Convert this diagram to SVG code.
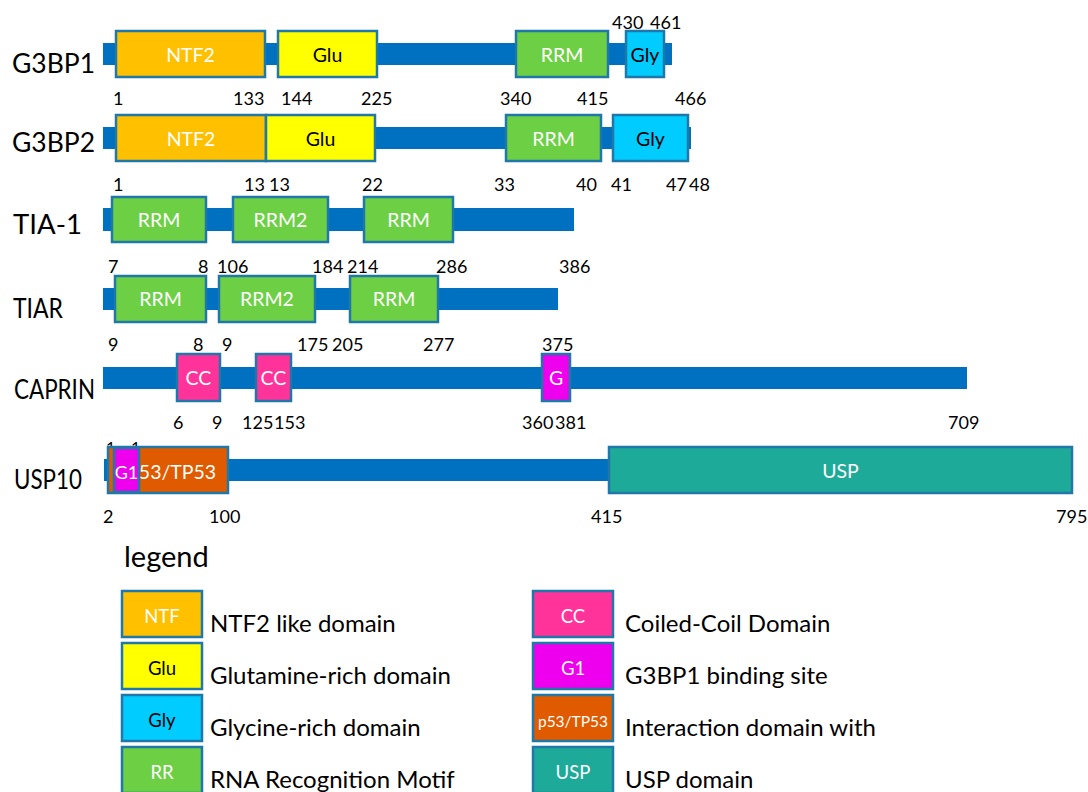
<svg xmlns="http://www.w3.org/2000/svg" width="1088" height="792" viewBox="0 0 1088 792">
<style>
text{font-family:Lato,"Open Sans","Liberation Sans",sans-serif;fill:#000}
.bar{fill:#0070C0}
.box{stroke:#1F78A8;stroke-width:2.5}
.ntf{fill:#FFC000}.glu{fill:#FFFF00}.rrm{fill:#6CCF44}.gly{fill:#00CCFF}
.cc{fill:#FF3399}.g{fill:#EE00EE}.p53{fill:#E05A00}.usp{fill:#1EAA98}
.lbl{font-size:26px}
.num{font-size:18px}
.bt{font-size:19.5px;text-anchor:middle}
.w{fill:#fff}
.leg{font-size:24px}
.lt{font-size:18.5px;text-anchor:middle}
</style>
<rect width="1088" height="792" fill="#fff"/>

<g id="G3BP1">
<text class="lbl" x="12" y="73" textLength="83" lengthAdjust="spacingAndGlyphs">G3BP1</text>
<rect class="bar" x="103" y="43" width="569" height="22"/>
<rect class="box ntf" x="116" y="31" width="149" height="46"/>
<text class="bt w" x="190.5" y="62">NTF2</text>
<rect class="box glu" x="278" y="31" width="99" height="46"/>
<text class="bt" x="327.5" y="62">Glu</text>
<rect class="box rrm" x="516" y="31" width="92" height="46"/>
<text class="bt w" x="562" y="62">RRM</text>
<rect class="box gly" x="626" y="31" width="38" height="46"/>
<text class="bt" x="645" y="62">Gly</text>
<text class="num" x="612" y="29">430</text>
<text class="num" x="650" y="29">461</text>
<text class="num" x="113" y="105">1</text>
<text class="num" x="233" y="105">133</text>
<text class="num" x="281" y="105">144</text>
<text class="num" x="361" y="105">225</text>
<text class="num" x="500" y="105">340</text>
<text class="num" x="577" y="105">415</text>
<text class="num" x="675" y="105">466</text>
</g>

<g id="G3BP2">
<text class="lbl" x="12" y="152" textLength="83" lengthAdjust="spacingAndGlyphs">G3BP2</text>
<rect class="bar" x="103" y="127" width="588" height="22"/>
<rect class="box ntf" x="116" y="115" width="150" height="46"/>
<text class="bt w" x="191" y="146">NTF2</text>
<rect class="box glu" x="266" y="115" width="109" height="46"/>
<text class="bt" x="320.5" y="146">Glu</text>
<rect class="box rrm" x="506" y="115" width="95" height="46"/>
<text class="bt w" x="553.5" y="146">RRM</text>
<rect class="box gly" x="613" y="115" width="75" height="46"/>
<text class="bt" x="650.5" y="146">Gly</text>
<text class="num" x="113" y="191">1</text>
<text class="num" x="244" y="191">13</text>
<text class="num" x="269" y="191">13</text>
<text class="num" x="362" y="191">22</text>
<text class="num" x="494" y="191">33</text>
<text class="num" x="576" y="191">40</text>
<text class="num" x="611" y="191">41</text>
<text class="num" x="666" y="191">47</text>
<text class="num" x="689" y="191">48</text>
</g>

<g id="TIA-1">
<text class="lbl" x="13" y="234" textLength="69" lengthAdjust="spacingAndGlyphs">TIA-1</text>
<rect class="bar" x="103" y="208" width="471" height="23"/>
<rect class="box rrm" x="112" y="197" width="94" height="45"/>
<text class="bt w" x="159" y="227">RRM</text>
<rect class="box rrm" x="233" y="197" width="95" height="45"/>
<text class="bt w" x="280.5" y="227">RRM2</text>
<rect class="box rrm" x="364" y="197" width="89" height="45"/>
<text class="bt w" x="408.5" y="227">RRM</text>
</g>

<g id="TIAR">
<text class="lbl" x="13" y="318" textLength="50" lengthAdjust="spacingAndGlyphs">TIAR</text>
<text class="num" x="108" y="273">7</text>
<text class="num" x="198" y="273">8</text>
<text class="num" x="217" y="273">106</text>
<text class="num" x="312" y="273">184</text>
<text class="num" x="347" y="273">214</text>
<text class="num" x="436" y="273">286</text>
<text class="num" x="559" y="273">386</text>
<rect class="bar" x="103" y="288" width="455" height="22"/>
<rect class="box rrm" x="115" y="276" width="91" height="46"/>
<text class="bt w" x="160.5" y="306">RRM</text>
<rect class="box rrm" x="219" y="276" width="96" height="46"/>
<text class="bt w" x="267" y="306">RRM2</text>
<rect class="box rrm" x="350" y="276" width="88" height="46"/>
<text class="bt w" x="394" y="306">RRM</text>
</g>

<g id="CAPRIN">
<text class="lbl" x="14" y="399" textLength="81" lengthAdjust="spacingAndGlyphs">CAPRIN</text>
<text class="num" x="108" y="351">9</text>
<text class="num" x="193" y="351">8</text>
<text class="num" x="222" y="351">9</text>
<text class="num" x="297" y="351">175</text>
<text class="num" x="332" y="351">205</text>
<text class="num" x="423" y="351">277</text>
<text class="num" x="542" y="351">375</text>
<rect class="bar" x="103" y="367" width="864" height="22"/>
<rect class="box cc" x="177" y="354" width="43" height="47"/>
<text class="bt w" x="198.5" y="385">CC</text>
<rect class="box cc" x="256" y="354" width="35" height="47"/>
<text class="bt w" x="273.5" y="385">CC</text>
<rect class="box g" x="542" y="354" width="28" height="47"/>
<text class="bt w" x="556" y="385">G</text>
<text class="num" x="173" y="429">6</text>
<text class="num" x="212" y="429">9</text>
<text class="num" x="242" y="429">125</text>
<text class="num" x="274" y="429">153</text>
<text class="num" x="522" y="429">360</text>
<text class="num" x="555" y="429">381</text>
<text class="num" x="948" y="429">709</text>
</g>

<g id="USP10">
<text class="lbl" x="14" y="489" textLength="68" lengthAdjust="spacingAndGlyphs">USP10</text>
<text class="num" x="106" y="453" style="font-size:16px">1</text>
<text class="num" x="131" y="453" style="font-size:16px">1</text>
<rect class="bar" x="104" y="459" width="505" height="22"/>
<rect class="box p53" x="108" y="447" width="120" height="46"/>
<text class="bt w" x="172" y="479">p53/TP53</text>
<rect class="box g" x="114" y="448" width="25" height="44"/>
<text class="bt w" x="126.5" y="479" style="font-size:18px">G1</text>
<rect class="box usp" x="609" y="447" width="463" height="46"/>
<text class="bt w" x="840.5" y="478">USP</text>
<text class="num" x="103" y="523">2</text>
<text class="num" x="209" y="523">100</text>
<text class="num" x="591" y="523">415</text>
<text class="num" x="1056" y="523">795</text>
</g>

<g id="legend">
<text x="124" y="567" style="font-size:29px">legend</text>
<rect class="box ntf" x="122" y="591" width="80" height="46"/>
<text class="lt w" x="162" y="623">NTF</text>
<text class="leg" x="210" y="632">NTF2 like domain</text>
<rect class="box glu" x="122" y="643" width="80" height="46"/>
<text class="lt" x="162" y="675">Glu</text>
<text class="leg" x="210" y="684">Glutamine-rich domain</text>
<rect class="box gly" x="122" y="695" width="80" height="46"/>
<text class="lt" x="162" y="727">Gly</text>
<text class="leg" x="210" y="736">Glycine-rich domain</text>
<rect class="box rrm" x="122" y="747" width="80" height="46"/>
<text class="lt w" x="162" y="779">RR</text>
<text class="leg" x="210" y="788">RNA Recognition Motif</text>

<rect class="box cc" x="533" y="591" width="80" height="46"/>
<text class="lt w" x="573" y="623">CC</text>
<text class="leg" x="625" y="632">Coiled-Coil Domain</text>
<rect class="box g" x="533" y="643" width="80" height="46"/>
<text class="lt w" x="573" y="675">G1</text>
<text class="leg" x="625" y="684">G3BP1 binding site</text>
<rect class="box p53" x="533" y="695" width="80" height="46"/>
<text class="w" x="573" y="727" style="font-size:15.5px;text-anchor:middle">p53/TP53</text>
<text class="leg" x="625" y="736">Interaction domain with</text>
<rect class="box usp" x="533" y="747" width="80" height="46"/>
<text class="lt w" x="573" y="779">USP</text>
<text class="leg" x="625" y="788">USP domain</text>
</g>
</svg>
